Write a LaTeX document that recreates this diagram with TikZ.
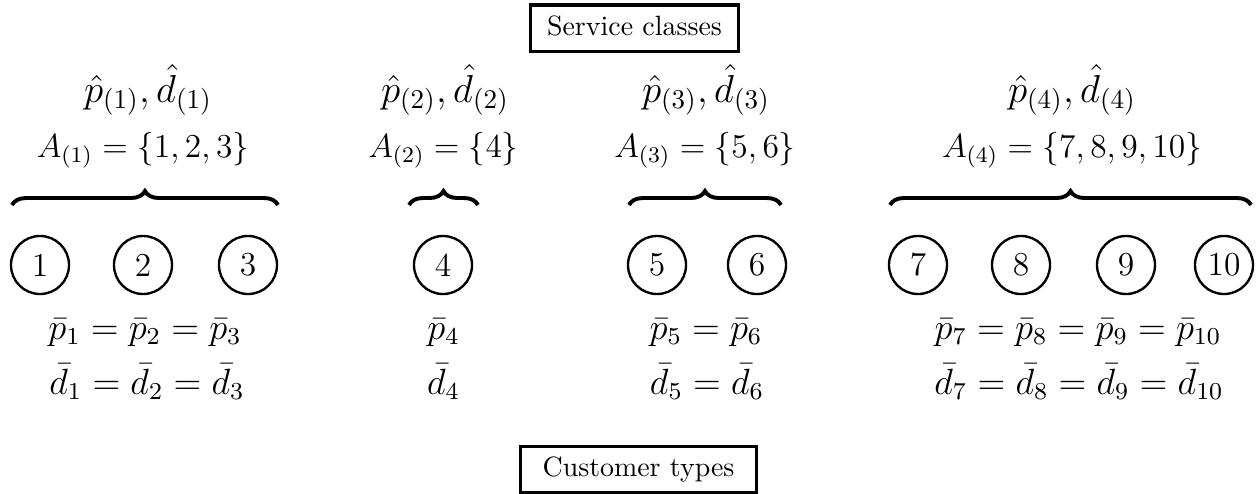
\documentclass[tikz,border=0pt]{standalone}
\usetikzlibrary{decorations.pathreplacing}
\begin{document}
\begin{tikzpicture}[x=0.3584pt, y=-0.3584pt,
  typenode/.style={circle, draw, line width=0.85pt, minimum size=20.8pt, inner sep=0pt, font=\large},
  titlebox/.style={draw, line width=1.1pt, text height=7pt, text depth=2pt, inner ysep=3.75pt, inner xsep=0pt, anchor=base},
  grpbrace/.style={decorate, decoration={brace, amplitude=5pt}, line width=1.4pt},
  lbl/.style={anchor=base, inner sep=0pt},
  hatlbl/.style={lbl, font=\Large, scale=0.97, transform shape},
  setlbl/.style={lbl, font=\large},
  barlbl/.style={lbl, font=\large, scale=1.09, transform shape}
]
\useasboundingbox (0,0) rectangle (1260,493);

% headings
\node[titlebox, minimum width=74.5pt] (service) at (634.5,35) {Service classes};
\node[titlebox, minimum width=84.6pt] (customer) at (638.5,476.7) {Customer types};

% customer types
\foreach \i/\x in {1/40, 2/143, 3/248, 4/443, 5/657, 6/757, 7/918, 8/1021, 9/1126, 10/1224}
  \node[typenode] (t\i) at (\x,265) {\i};

% braces over each class
\coordinate (b1l) at (12,205);   \coordinate (b1r) at (278,205);
\coordinate (b2l) at (409,205);  \coordinate (b2r) at (478,205);
\coordinate (b3l) at (629,205);  \coordinate (b3r) at (781,205);
\coordinate (b4l) at (890,205);  \coordinate (b4r) at (1251,205);
\draw[grpbrace] (b1l) -- (b1r);
\draw[grpbrace] (b2l) -- (b2r);
\draw[grpbrace] (b3l) -- (b3r);
\draw[grpbrace] (b4l) -- (b4r);

% class parameters
\node[hatlbl] (hat1) at (148,102)   {$\hat{p}_{(1)}, \hat{d}_{(1)}$};
\node[setlbl] (set1) at (143,157)   {$A_{(1)} = \{1,2,3\}$};
\node[hatlbl] (hat2) at (445,102)   {$\hat{p}_{(2)}, \hat{d}_{(2)}$};
\node[setlbl] (set2) at (443.5,157) {$A_{(2)} = \{4\}$};
\node[hatlbl] (hat3) at (706,102)   {$\hat{p}_{(3)}, \hat{d}_{(3)}$};
\node[setlbl] (set3) at (705,157)   {$A_{(3)} = \{5,6\}$};
\node[hatlbl] (hat4) at (1072,102)  {$\hat{p}_{(4)}, \hat{d}_{(4)}$};
\node[setlbl] (set4) at (1072,157)  {$A_{(4)} = \{7,8,9,10\}$};

% type parameters
\node[barlbl] (pbar1) at (145,339)   {$\bar{p}_1 = \bar{p}_2 = \bar{p}_3$};
\node[barlbl] (dbar1) at (147,394)   {$\bar{d}_1 = \bar{d}_2 = \bar{d}_3$};
\node[barlbl] (pbar2) at (443.5,339) {$\bar{p}_4$};
\node[barlbl] (dbar2) at (443.5,394) {$\bar{d}_4$};
\node[barlbl] (pbar3) at (706,339)   {$\bar{p}_5 = \bar{p}_6$};
\node[barlbl] (dbar3) at (707,394)   {$\bar{d}_5 = \bar{d}_6$};
\node[barlbl] (pbar4) at (1078,339)  {$\bar{p}_7 = \bar{p}_8 = \bar{p}_9 = \bar{p}_{10}$};
\node[barlbl] (dbar4) at (1079,394)  {$\bar{d}_7 = \bar{d}_8 = \bar{d}_9 = \bar{d}_{10}$};
\end{tikzpicture}
\end{document}
